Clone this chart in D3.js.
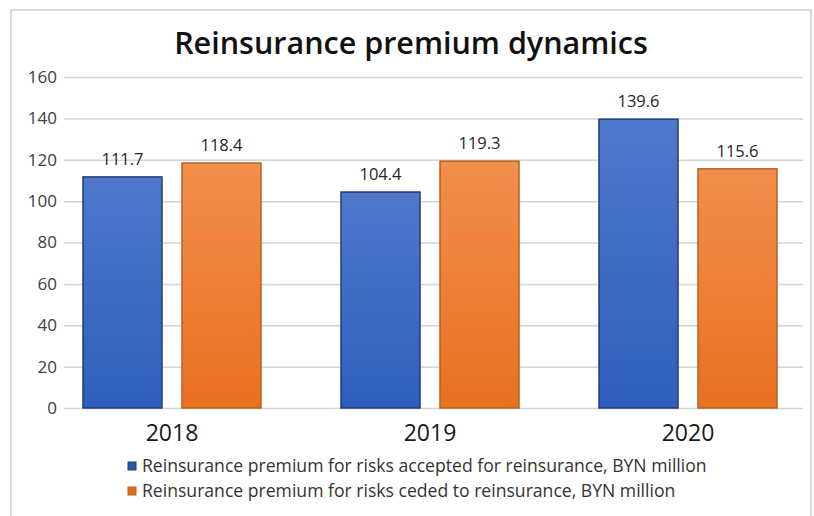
<!DOCTYPE html>
<html>
<head>
<meta charset="utf-8">
<script src="https://cdn.jsdelivr.net/npm/d3@7"></script>
<style>
  body { margin: 0; background: #fff; }
  svg { display: block; font-family: "Open Sans", sans-serif; }
</style>
</head>
<body>
<svg width="814" height="516"></svg>
<script>
const years = ["2018", "2019", "2020"];
const seriesNames = [
  "Reinsurance premium for risks accepted for reinsurance, BYN million",
  "Reinsurance premium for risks ceded to reinsurance, BYN million",
];
const accepted = [111.7, 104.4, 139.6];
const ceded = [118.4, 119.3, 115.6];
const yTicks = [0, 20, 40, 60, 80, 100, 120, 140, 160];

const svg = d3.select("svg");
const attr_area = { left: 64, right: 803, top: 77, bottom: 408 };

// frame around chart
svg.append("rect")
  .attr("x", 11).attr("y", 10)
  .attr("width", 800).attr("height", 520)
  .style("fill", "none")
  .style("stroke", "#d0d0d0")
  .style("stroke-width", 1.5);

const defs = svg.append("defs");
function gradient(id, top, bottom) {
  const g = defs.append("linearGradient").attr("id", id)
    .attr("x1", 0).attr("y1", 0).attr("x2", 0).attr("y2", 1);
  g.append("stop").attr("offset", "0%").attr("stop-color", top);
  g.append("stop").attr("offset", "100%").attr("stop-color", bottom);
}
gradient("gBlue", "#4f78cc", "#2f5ebd");
gradient("gOrange", "#f28e4c", "#e8711f");
const fills = ["url(#gBlue)", "url(#gOrange)"];
const strokes = ["#1f3c7a", "#b9601f"];
const legendFills = ["#2f56a8", "#e06e22"];

svg.append("text")
  .attr("x", 411).attr("y", 54)
  .attr("text-anchor", "middle")
  .style("font-size", "30.5px")
  .style("font-weight", "600")
  .style("fill", "#111")
  .text("Reinsurance premium dynamics");

const scY = d3.scaleLinear().domain([0, 160]).range([attr_area.bottom, attr_area.top]);
const scX = d3.scaleBand().domain(years).range([43, 817]).padding(0);
const scS = d3.scaleBand().domain([0, 1]).range([40, 218]).paddingInner(0.202).paddingOuter(0);

// gridlines
svg.append("g")
  .attr("transform", `translate(${attr_area.left},0)`)
  .call(d3.axisLeft(scY).tickValues(yTicks).tickSize(-(attr_area.right - attr_area.left)).tickPadding(7))
  .call(g => g.select(".domain").remove())
  .call(g => g.selectAll(".tick line").style("stroke", "#d4d4d4").style("stroke-width", 1.5))
  .call(g => g.selectAll(".tick text")
    .style("font-size", "17px").style("fill", "#404040").style("font-family", "Open Sans, sans-serif"));

const rows = years.map((y, i) => ({ year: y, values: [accepted[i], ceded[i]] }));

const groups = svg.append("g").selectAll("g")
  .data(rows).enter().append("g")
  .attr("transform", d => `translate(${scX(d.year)},0)`);

groups.selectAll("rect")
  .data(d => d.values.map((v, k) => ({ k, v })))
  .enter().append("rect")
  .attr("x", d => scS(d.k))
  .attr("y", d => scY(d.v))
  .attr("width", scS.bandwidth())
  .attr("height", d => scY(0) - scY(d.v))
  .style("fill", d => fills[d.k])
  .style("stroke", d => strokes[d.k])
  .style("stroke-width", 1.5);

groups.selectAll("text")
  .data(d => d.values.map((v, k) => ({ k, v })))
  .enter().append("text")
  .attr("x", d => scS(d.k) + scS.bandwidth() / 2)
  .attr("y", d => scY(d.v) - 12)
  .attr("text-anchor", "middle")
  .style("font-size", "16.5px")
  .style("fill", "#262626")
  .text(d => d.v.toFixed(1));

// x axis labels
svg.append("g")
  .attr("transform", `translate(0,${attr_area.bottom})`)
  .call(d3.axisBottom(scX).tickSize(0).tickPadding(17))
  .call(g => g.select(".domain").remove())
  .call(g => g.selectAll(".tick text")
    .style("font-size", "23px").style("fill", "#1a1a1a").style("font-family", "Open Sans, sans-serif"));

// legend
const legend = svg.append("g").attr("transform", "translate(128,466)");
seriesNames.forEach((name, i) => {
  const row = legend.append("g").attr("transform", `translate(0,${i * 25})`);
  row.append("rect")
    .attr("x", 0).attr("y", -4).attr("width", 8).attr("height", 8)
    .style("fill", legendFills[i])
    .style("stroke", strokes[i]);
  row.append("text")
    .attr("x", 14).attr("y", 0).attr("dy", "0.35em")
    .style("font-size", "17.6px")
    .style("fill", "#333")
    .text(name);
});
</script>
</body>
</html>
